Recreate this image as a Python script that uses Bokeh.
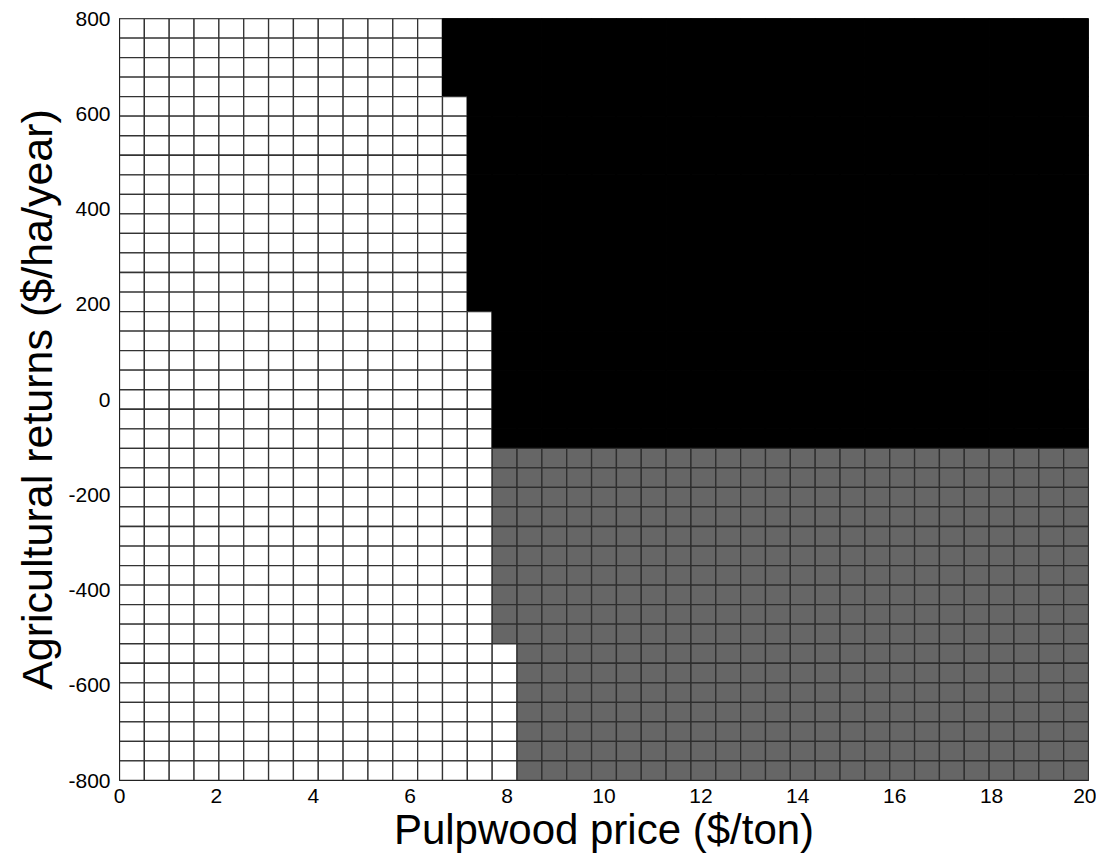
import numpy as np
from bokeh.plotting import figure
from bokeh.models import ColumnDataSource, FixedTicker
from bokeh.embed import file_html
from bokeh.resources import INLINE

# ---- data ----
price_range = [0, 20]            # Pulpwood price ($/ton)
returns_range = [-800, 800]      # Agricultural returns ($/ha/year)
n_price_cells = 39
n_return_cells = 39
# for each row of cells (top to bottom): index of first cell that is not agriculture (white)
first_forest_col = [13] * 4 + [14] * 11 + [15] * 17 + [16] * 7
# number of rows from the top whose forest cells are black (the rest are gray)
black_rows = 22
x_ticks = [0, 2, 4, 6, 8, 10, 12, 14, 16, 18, 20]
y_ticks = [-800, -600, -400, -200, 0, 200, 400, 600, 800]
colors = {"agri": "#ffffff", "forest_a": "#000000", "forest_b": "#666666"}
line_colors = {"agri": "#333333", "forest_a": "#000000", "forest_b": "#2e2e2e"}

# ---- build cells ----
dx = (price_range[1] - price_range[0]) / n_price_cells
dy = (returns_range[1] - returns_range[0]) / n_return_cells
left, right, top, bottom, fill, lc = [], [], [], [], [], []
for r in range(n_return_cells):
    for c in range(n_price_cells):
        x0 = price_range[0] + c * dx
        y1 = returns_range[1] - r * dy
        left.append(x0); right.append(x0 + dx)
        top.append(y1); bottom.append(y1 - dy)
        if c < first_forest_col[r]:
            k = "agri"
        elif r < black_rows:
            k = "forest_a"
        else:
            k = "forest_b"
        fill.append(colors[k]); lc.append(line_colors[k])
src = ColumnDataSource(dict(left=left, right=right, top=top, bottom=bottom, fill=fill, lc=lc))

p = figure(frame_width=969, frame_height=762, output_backend="svg", toolbar_location=None,
           x_range=tuple(price_range), y_range=tuple(returns_range),
           min_border_left=119, min_border_top=18, min_border_right=8, min_border_bottom=60)
p.quad(left="left", right="right", top="top", bottom="bottom", source=src,
       fill_color="fill", line_color="lc", line_width=1.3)

p.xgrid.visible = False
p.ygrid.visible = False
p.outline_line_color = "#222222"
p.outline_line_width = 1
p.background_fill_color = "white"

for ax in (p.xaxis[0], p.yaxis[0]):
    ax.major_tick_out = 0
    ax.major_tick_in = 0
    ax.minor_tick_out = 0
    ax.minor_tick_in = 0
    ax.axis_line_color = "#222222"
    ax.major_label_text_font = "Liberation Sans"
    ax.major_label_text_font_size = "21px"
    ax.major_label_text_color = "#000000"
    ax.axis_label_text_font = "Liberation Sans"
    ax.axis_label_text_font_style = "normal"
    ax.axis_label_text_color = "#000000"

p.xaxis.axis_label_text_font_size = "42px"
p.yaxis.axis_label_text_font_size = "43px"
p.xaxis.ticker = FixedTicker(ticks=x_ticks)
p.yaxis.ticker = FixedTicker(ticks=y_ticks)
p.yaxis.major_label_overrides = {t: str(t) for t in y_ticks}
p.xaxis.major_label_overrides = {t: str(t) for t in x_ticks}
p.xaxis.axis_label = "Pulpwood price ($/ton)"
p.yaxis.axis_label = "Agricultural returns ($/ha/year)"
p.xaxis.major_label_standoff = 8
p.yaxis.major_label_standoff = 9
p.xaxis.axis_label_standoff = 0
p.yaxis.axis_label_standoff = 4

open("out.html", "w").write(file_html(p, INLINE))
